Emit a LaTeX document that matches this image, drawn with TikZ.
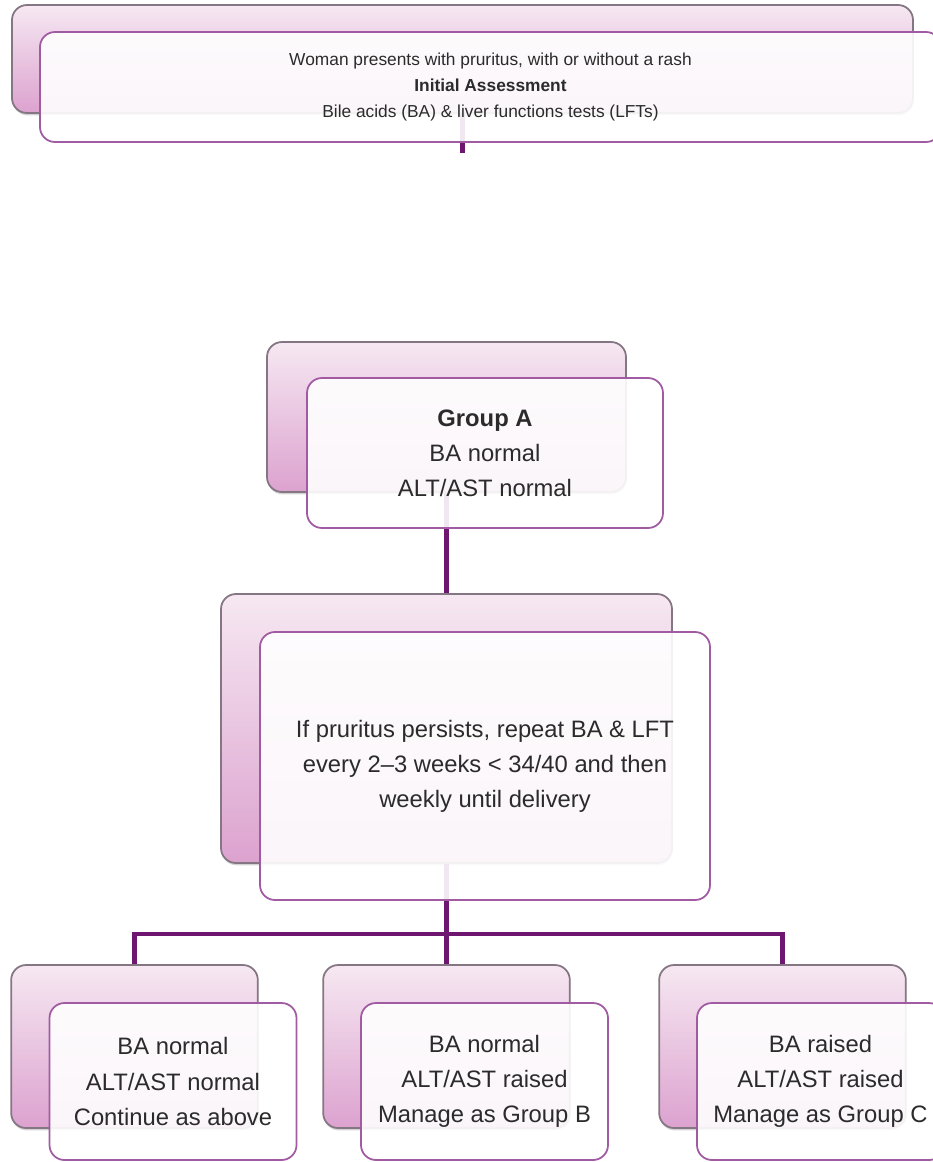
\documentclass[tikz,border=0pt]{standalone}
\usepackage{fontspec}
\setmainfont{Liberation Sans}
\usetikzlibrary{shadows}
\definecolor{linkpurple}{HTML}{6E1670}
\definecolor{frontedge}{HTML}{A05BA3}
\definecolor{backedge}{HTML}{857683}
\definecolor{pinktop}{HTML}{F6E8F2}
\definecolor{pinkbottom}{HTML}{DCA2CF}
\definecolor{textgray}{HTML}{2B2B2B}

\tikzset{
  backbox/.style={draw=backedge, line width=1.5pt, rounded corners=0.45cm,
    top color=pinktop, bottom color=pinkbottom, inner sep=0pt,
    drop shadow={opacity=0.35, shadow xshift=0.5pt, shadow yshift=-2pt}},
  frontbox/.style={draw=frontedge, line width=1.5pt, rounded corners=0.45cm,
    fill=white, fill opacity=0.9, text opacity=1, text=textgray,
    align=center, inner sep=0pt, font=\fontsize{20.3}{30}\selectfont},
  link/.style={draw=linkpurple, line width=4pt}
}

\begin{document}
\begin{tikzpicture}[x=0.03cm, y=-0.03cm]
        \clip (0,0) rectangle (933,1162);
        % back boxes
        \node[backbox, minimum width=27.03cm, minimum height=3.24cm] (topback) at (462.5,59) {};
        \node[backbox, minimum width=10.77cm, minimum height=4.5cm] (groupAback) at (446.5,417) {};
        \node[backbox, minimum width=13.53cm, minimum height=8.07cm] (repeatback) at (446.5,728.5) {};
        \node[backbox, minimum width=7.4cm, minimum height=4.89cm] (leftback) at (134.5,1046.5) {};
        \node[backbox, minimum width=7.4cm, minimum height=4.89cm] (midback) at (446.5,1046.5) {};
        \node[backbox, minimum width=7.4cm, minimum height=4.89cm] (rightback) at (782.5,1046.5) {};
        % connectors
        \coordinate (topstub) at (462.5,153);
        \coordinate (bus) at (446.5,934);
        \draw[link] (topback.south) -- (topstub);
        \draw[link] (groupAback.south) -- (repeatback.north);
        \draw[link] (repeatback.south) -- (midback.north);
        \draw[link] (leftback.north) |- (bus) -| (rightback.north);
        % front boxes
        \node[frontbox, minimum width=27.03cm, minimum height=3.3cm, font=\fontsize{14.8}{21.8}\selectfont] (start) at (490.5,87)
          {Woman presents with pruritus, with or without a rash\\ \textbf{Initial Assessment}\\ Bile acids (BA) \& liver functions tests (LFTs)};
        \node[frontbox, minimum width=10.68cm, minimum height=4.5cm] (groupA) at (485,453)
          {\textbf{Group A}\\ BA normal\\ ALT/AST normal};
        \node[frontbox, minimum width=13.5cm, minimum height=8.04cm] (repeat) at (485,766)
          {If pruritus persists, repeat BA \& LFT\\ every 2--3 weeks < 34/40 and then\\ weekly until delivery};
        \node[frontbox, minimum width=7.41cm, minimum height=4.71cm] (contA) at (173,1081.5)
          {BA normal\\ ALT/AST normal\\ Continue as above};
        \node[frontbox, minimum width=7.41cm, minimum height=4.71cm] (toB) at (484.5,1081.5)
          {BA normal\\ ALT/AST raised\\ Manage as Group B};
        \node[frontbox, minimum width=7.41cm, minimum height=4.71cm] (toC) at (820.5,1081.5)
          {BA raised\\ ALT/AST raised\\ Manage as Group C};
      \end{tikzpicture}
\end{document}
